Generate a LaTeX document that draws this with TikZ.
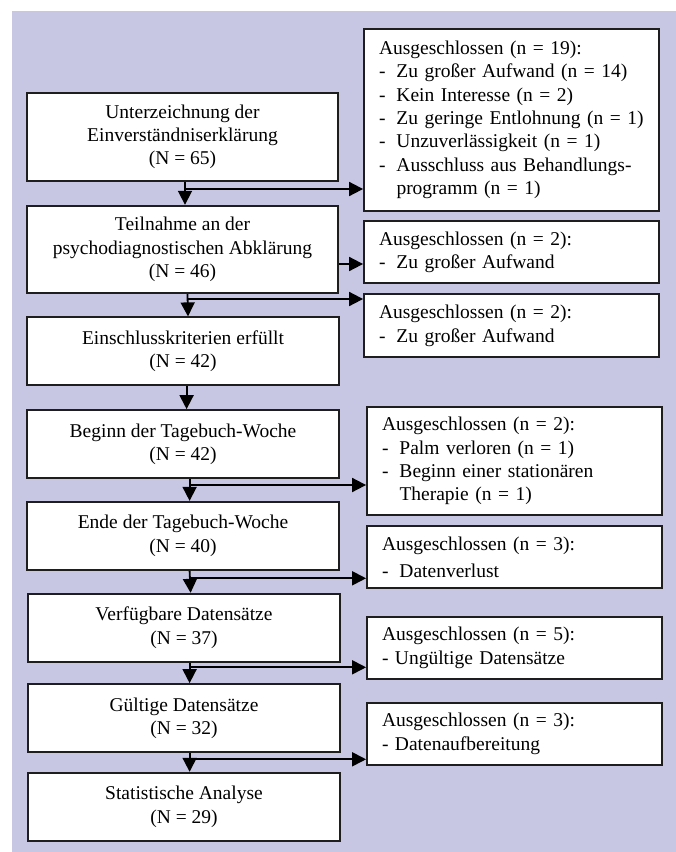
\documentclass[tikz,border=0pt]{standalone}
\usepackage{fontspec}
\setmainfont{Liberation Serif}
\usetikzlibrary{arrows.meta}
\definecolor{bgc}{RGB}{199,199,227}
\definecolor{edgec}{RGB}{30,30,30}
\newcommand{\dashitem}{\makebox[17.5pt][l]{-}}
\newcommand{\hangitem}{\hspace*{17.5pt}}
\begin{document}
\begin{tikzpicture}[x=1pt,y=-1pt,
  mainbox/.style={draw=edgec,line width=1.8pt,fill=white,inner sep=0pt,align=center,minimum width=311.5pt,font=\fontsize{19.5}{23.3}\selectfont},
  exbox/.style={draw=edgec,line width=1.8pt,fill=white,inner xsep=15pt,inner ysep=0pt,align=left,font=\fontsize{19.5}{23.3}\selectfont},
  arr/.style={line width=1.8pt,draw=black,-{Triangle[length=14pt,width=14pt]}}]
\useasboundingbox (0,0) rectangle (676,852);
\fill[bgc] (12,11) rectangle (676,852);

% main boxes
\node[mainbox,minimum height=88pt] (b1) at (182.5,136.7) {Unterzeichnung der\\Einverständniserklärung\\(N = 65)};
\node[mainbox,minimum height=87.6pt] (b2) at (182.5,249.5) {Teilnahme an der\\psychodiagnostischen Abklärung\\(N = 46)};
\node[mainbox,minimum height=68pt] (b3) at (183,351.3) {Einschlusskriterien erfüllt\\(N = 42)};
\node[mainbox,minimum height=68.3pt] (b4) at (183,444.2) {Beginn der Tagebuch-Woche\\(N = 42)};
\node[mainbox,minimum height=68.3pt] (b5) at (183,535.9) {Ende der Tagebuch-Woche\\(N = 40)};
\node[mainbox,minimum height=68pt] (b6) at (184,627.7) {Verfügbare Datensätze\\(N = 37)};
\node[mainbox,minimum height=68.3pt] (b7) at (184,718.2) {Gültige Datensätze\\(N = 32)};
\node[mainbox,minimum height=68pt] (b8) at (184,806.7) {Statistische Analyse\\(N = 29)};

% exclusion boxes
\node[exbox,text width=264.6pt,minimum height=181.7pt] (e1) at (511.3,119.9) {Ausgeschlossen (n = 19):\\
\dashitem Zu großer Aufwand (n = 14)\\
\dashitem Kein Interesse (n = 2)\\
\dashitem\mbox{Zu geringe Entlohnung (n = 1)}\\
\dashitem Unzuverlässigkeit (n = 1)\\
\dashitem Ausschluss aus Behandlungs-\\
\hangitem programm (n = 1)};
\node[exbox,text width=264.6pt,minimum height=62.6pt] (e2) at (511.3,252) {Ausgeschlossen (n = 2):\\\dashitem Zu großer Aufwand};
\node[exbox,text width=264.6pt,minimum height=63pt] (e3) at (511.3,325.8) {Ausgeschlossen (n = 2):\\\dashitem Zu großer Aufwand};
\node[exbox,text width=265pt,minimum height=108pt] (e4) at (514.5,461) {Ausgeschlossen (n = 2):\\
\dashitem Palm verloren (n = 1)\\
\dashitem Beginn einer stationären\\
\hangitem Therapie (n = 1)};
\node[exbox,text width=265pt,minimum height=62.3pt] (e5) at (514.5,557.2) {Ausgeschlossen (n = 3):\\[3.4pt]\dashitem Datenverlust};
\node[exbox,text width=265pt,minimum height=62.3pt] (e6) at (514.5,647.8) {Ausgeschlossen (n = 5):\\- Ungültige Datensätze};
\node[exbox,text width=265pt,minimum height=62.3pt] (e7) at (514.5,733.8) {Ausgeschlossen (n = 3):\\- Datenaufbereitung};

% junction points
\coordinate (j1) at (185,189);
\coordinate (j2) at (338,264);
\coordinate (j3) at (187.5,299);
\coordinate (j4) at (189.6,485);
\coordinate (j5) at (189.6,578.3);
\coordinate (j6) at (189.6,667.3);
\coordinate (j7) at (189.6,759.3);

% main flow
\draw[arr] ([xshift=2.5pt]b1.south) -- ([xshift=2.5pt]b2.north);
\draw[arr] ([xshift=5pt]b2.south) -- ([xshift=5pt]b3.north);
\draw[arr] ([xshift=3.6pt]b3.south) -- ([xshift=3.6pt]b4.north);
\draw[arr] ([xshift=6.6pt]b4.south) -- ([xshift=6.6pt]b5.north);
\draw[arr] ([xshift=6.6pt]b5.south) -- ([xshift=6.6pt]b6.north);
\draw[arr] ([xshift=5.6pt]b6.south) -- ([xshift=5.6pt]b7.north);
\draw[arr] ([xshift=5.6pt]b7.south) -- ([xshift=5.6pt]b8.north);

% branches
\draw[arr] (j1) -- (j1 -| e1.west);
\draw[arr] (b2.east |- j2) -- (e2.west |- j2);
\draw[arr] (j3) -- (j3 -| e3.west);
\draw[arr] (j4) -- (j4 -| e4.west);
\draw[arr] (j5) -- (j5 -| e5.west);
\draw[arr] (j6) -- (j6 -| e6.west);
\draw[arr] (j7) -- (j7 -| e7.west);
\end{tikzpicture}
\end{document}
